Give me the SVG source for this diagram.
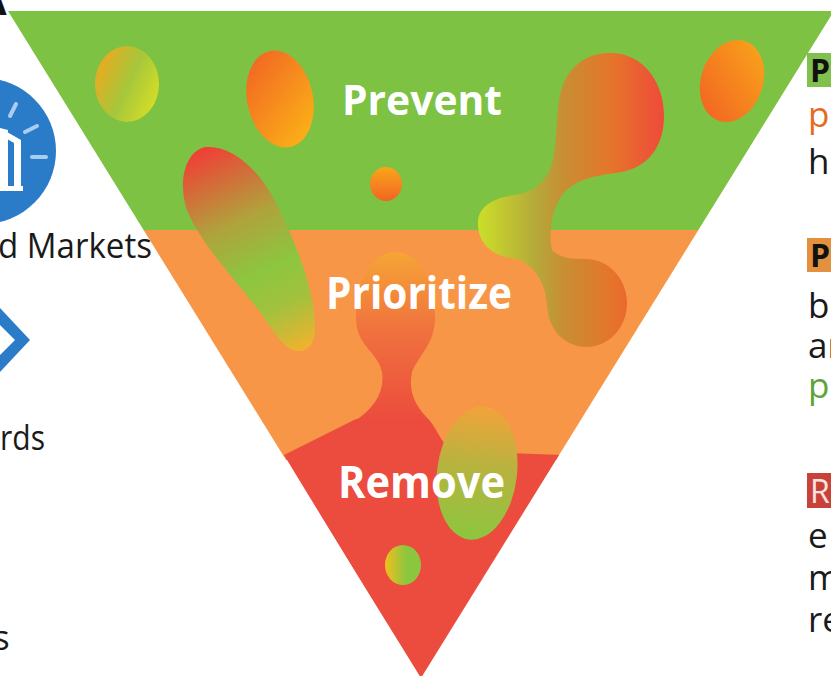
<svg xmlns="http://www.w3.org/2000/svg" width="831" height="676" viewBox="0 0 831 676">
  <defs>
    <style>
      .lbl { font-family: "Open Sans", "Noto Sans", "DejaVu Sans", sans-serif; font-weight: 700; fill: #ffffff; }
      .side { font-family: "Open Sans", "Noto Sans", "DejaVu Sans", sans-serif; font-size: 35px; }
      .ink { fill: #1a1a1a; }
      .orange { fill: #e36c1e; }
      .green { fill: #5ea33a; }
      .tag { font-family: "Open Sans", "Noto Sans", "DejaVu Sans", sans-serif; font-size: 32px; font-weight: 700; fill: #111111; }
      .tag-light { fill: #fbe3e0; font-weight: 400; }
    </style>
    <clipPath id="funnelClip">
      <polygon points="8,11 834,11 421,678"/>
    </clipPath>
    <linearGradient id="gBlobA" x1="0" y1="0.15" x2="1" y2="0.7">
      <stop offset="0" stop-color="#f4a61d"/>
      <stop offset="0.55" stop-color="#a6c73b"/>
      <stop offset="1" stop-color="#d6de25"/>
    </linearGradient>
    <linearGradient id="gBlobB" x1="0.2" y1="0" x2="0.8" y2="1">
      <stop offset="0" stop-color="#f26524"/>
      <stop offset="1" stop-color="#fbb416"/>
    </linearGradient>
    <linearGradient id="gDot" x1="0" y1="0" x2="0" y2="1">
      <stop offset="0" stop-color="#f9a61b"/>
      <stop offset="1" stop-color="#f26522"/>
    </linearGradient>
    <linearGradient id="gLeft" gradientUnits="userSpaceOnUse" x1="205" y1="150" x2="300" y2="352">
      <stop offset="0" stop-color="#ef4136"/>
      <stop offset="0.35" stop-color="#b0a23c"/>
      <stop offset="0.6" stop-color="#8cc63f"/>
      <stop offset="0.78" stop-color="#a3c13d"/>
      <stop offset="1" stop-color="#f2b22e"/>
    </linearGradient>
    <linearGradient id="gAmoeba" gradientUnits="userSpaceOnUse" x1="479" y1="0" x2="664" y2="0">
      <stop offset="0" stop-color="#cbde29"/>
      <stop offset="0.3" stop-color="#b5aa3a"/>
      <stop offset="0.45" stop-color="#c78f33"/>
      <stop offset="0.72" stop-color="#e6742a"/>
      <stop offset="1" stop-color="#ef4a3a"/>
    </linearGradient>
    <linearGradient id="gRight" x1="0.8" y1="0" x2="0.2" y2="1">
      <stop offset="0" stop-color="#f9a21b"/>
      <stop offset="1" stop-color="#f26522"/>
    </linearGradient>
    <linearGradient id="gNeck" gradientUnits="userSpaceOnUse" x1="0" y1="252" x2="0" y2="420">
      <stop offset="0" stop-color="#f6a536"/>
      <stop offset="0.45" stop-color="#f0733e"/>
      <stop offset="1" stop-color="#ec4c3d"/>
    </linearGradient>
    <linearGradient id="gRemove" x1="0" y1="0" x2="0" y2="1">
      <stop offset="0" stop-color="#f2a33a"/>
      <stop offset="0.45" stop-color="#b7b33f"/>
      <stop offset="1" stop-color="#8cc63f"/>
    </linearGradient>
    <linearGradient id="gSmall" x1="0" y1="0" x2="1" y2="0">
      <stop offset="0" stop-color="#f2be1e"/>
      <stop offset="0.6" stop-color="#8cc63f"/>
      <stop offset="1" stop-color="#8cc63f"/>
    </linearGradient>
  </defs>

  <rect width="831" height="676" fill="#ffffff"/>

  <!-- cut-off heading letter, top left -->
  <text x="-21" y="15" font-family="'Open Sans', 'DejaVu Sans', sans-serif" font-weight="700" font-size="40" fill="#111">A</text>

  <!-- left column: icons and captions -->
  <g id="icon-markets">
    <circle cx="-17" cy="151" r="73" fill="#2b7cc8"/>
    <g stroke="#a9cdef" stroke-width="4" stroke-linecap="round">
      <line x1="10" y1="116" x2="16" y2="104"/>
      <line x1="25" y1="132" x2="37" y2="126"/>
      <line x1="32" y1="157" x2="46" y2="157"/>
    </g>
    <path d="M0,128 L8,130 L8,190 L0,190 Z" fill="#ffffff"/>
    <path d="M7,132 L21,140 L21,187 L14,187 L14,143 L7,139 Z" fill="#ffffff"/>
    <rect x="0" y="186" width="23" height="5" fill="#ffffff"/>
  </g>
  <text class="side ink" x="-2" y="258" font-size="34" textLength="154" lengthAdjust="spacingAndGlyphs">d Markets</text>

  <g id="icon-standards">
    <polygon points="0,308 30,340 0,372 0,355 15,340 0,325" fill="#2b7cc8"/>
  </g>
  <text class="side ink" x="0" y="450" textLength="45" lengthAdjust="spacingAndGlyphs">rds</text>
  <text class="side ink" x="-7" y="650">s</text>

  <!-- inverted pyramid -->
  <g id="funnel" clip-path="url(#funnelClip)">
    <g id="band-prevent">
      <rect x="0" y="11" width="840" height="220" fill="#7dc243"/>
    </g>
    <g id="band-prioritize">
      <rect x="0" y="230" width="840" height="230" fill="#f79646"/>
    </g>
    <g id="band-remove">
      <path d="M284,455 L356,419 L428,419 C436,426 440,442 452,451 L562,455 L421,680 Z" fill="#ec4c3d"/>
      <path d="M395,252 C420,252 436,282 435,320 C434,345 418,356 412,372 C408,392 415,406 430,421 L355,421 C374,408 385,392 382,372 C378,352 356,346 356,318 C356,282 372,252 395,252 Z" fill="url(#gNeck)"/>
    </g>

    <!-- decorative blobs -->
    <g id="blobs">
      <ellipse cx="127" cy="84" rx="32" ry="38" fill="url(#gBlobA)"/>
      <ellipse cx="280" cy="99" rx="33" ry="49" transform="rotate(-12 280 99)" fill="url(#gBlobB)"/>
      <ellipse cx="386" cy="184" rx="16" ry="17" fill="url(#gDot)"/>
      <path d="M206,147 C232,145 260,170 277,205 C297,245 314,290 315,325 C316,345 306,352 298,351 C285,350 276,335 262,315 C238,282 198,242 186,207 C178,180 186,150 206,147 Z" fill="url(#gLeft)"/>
      <path d="M610,53 C645,53 665,85 664,118 C663,150 645,170 615,173 C590,176 572,182 562,195 C552,210 548,230 552,250 C560,258 570,259 585,259 C610,259 627,280 627,303 C627,328 608,347 587,347 C565,347 548,330 547,305 C546,285 535,262 512,258 C490,256 477,240 478,222 C479,205 495,198 515,195 C535,192 548,180 553,160 C557,140 556,115 560,95 C566,68 585,53 610,53 Z" fill="url(#gAmoeba)"/>
      <ellipse cx="732" cy="81" rx="31" ry="42" transform="rotate(18 732 81)" fill="url(#gRight)"/>
      <ellipse cx="477" cy="473" rx="40" ry="67" transform="rotate(7 477 473)" fill="url(#gRemove)"/>
      <ellipse cx="403" cy="565" rx="18" ry="20" fill="url(#gSmall)"/>
    </g>
  </g>

  <!-- stage labels -->
  <g id="label-prevent">
    <text class="lbl" x="342" y="115" font-size="42" textLength="160" lengthAdjust="spacingAndGlyphs">Prevent</text>
  </g>
  <g id="label-prioritize">
    <text class="lbl" x="326" y="309" font-size="45" textLength="186" lengthAdjust="spacingAndGlyphs">Prioritize</text>
  </g>
  <g id="label-remove">
    <text class="lbl" x="338" y="498" font-size="44" textLength="167" lengthAdjust="spacingAndGlyphs">Remove</text>
  </g>

  <!-- right column: descriptions -->
  <g id="desc-prevent">
    <rect x="807" y="53" width="30" height="34" fill="#80c04c"/>
    <text class="tag" x="810" y="82">P</text>
    <text class="side orange" x="808" y="127">p</text>
    <text class="side ink" x="808" y="174">h</text>
  </g>
  <g id="desc-prioritize">
    <rect x="807" y="238" width="30" height="34" fill="#e3913f"/>
    <text class="tag" x="810" y="267">P</text>
    <text class="side ink" x="808" y="318">b</text>
    <text class="side ink" x="808" y="358">ar</text>
    <text class="side green" x="808" y="398">p</text>
  </g>
  <g id="desc-remove">
    <rect x="807" y="473" width="30" height="35" fill="#c9423a"/>
    <text class="tag tag-light" x="810" y="503">R</text>
    <text class="side ink" x="808" y="548">e</text>
    <text class="side ink" x="808" y="590">m</text>
    <text class="side ink" x="808" y="632">re</text>
  </g>
</svg>
